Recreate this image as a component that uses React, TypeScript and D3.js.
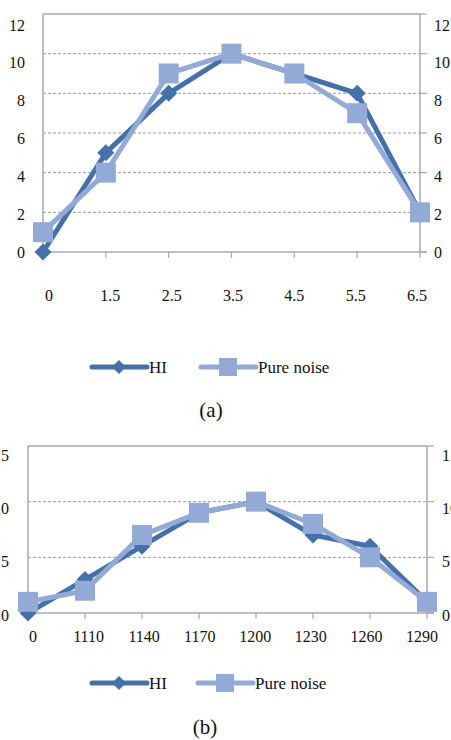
import React from "react";
import * as d3 from "d3";

const catsA = ["0", "1.5", "2.5", "3.5", "4.5", "5.5", "6.5"];
const hiA = [0, 5, 8, 10, 9, 8, 2];
const noiseA = [1, 4, 9, 10, 9, 7, 2];
const yTicksA = [0, 2, 4, 6, 8, 10, 12];

const catsB = ["0", "1110", "1140", "1170", "1200", "1230", "1260", "1290"];
const hiB = [0, 3, 6, 9, 10, 7, 6, 1];
const noiseB = [1, 2, 7, 9, 10, 8, 5, 1];
const yTicksB = [0, 5, 10, 15];

const seriesNames = ["HI", "Pure noise"];
const captions = ["(a)", "(b)"];

const HI_COLOR = "#4571ab";
const NOISE_COLOR = "#94aad6";
const AXIS_COLOR = "#a8a8a8";
const GRID_COLOR = "#9a9a9a";
const FONT = "Liberation Serif";

type PanelProps = {
  cats: string[];
  hi: number[];
  noise: number[];
  yTicks: number[];
  plot: { left: number; right: number; top: number; bottom: number };
  labelX: [number, number];
  labelY: [number, number];
  xLabelY: number;
  leftLabelX: number;
  rightLabelX: number;
  legendY: number;
  legendX: [number, number];
  caption: string;
  captionX: number;
  captionY: number;
};

function Panel(p: PanelProps) {
  const yMax = p.yTicks[p.yTicks.length - 1];
  const x = d3.scalePoint<string>().domain(p.cats).range([p.plot.left, p.plot.right]);
  const y = d3.scaleLinear().domain([0, yMax]).range([p.plot.bottom, p.plot.top]);
  const xl = d3.scalePoint<string>().domain(p.cats).range(p.labelX);
  const yl = d3.scaleLinear().domain([0, yMax]).range(p.labelY);
  const line = d3
    .line<number>()
    .x((_, i) => x(p.cats[i]) as number)
    .y((d) => y(d));

  const diamond = (cx: number, cy: number, r: number) =>
    `M${cx},${cy - r}L${cx + r},${cy}L${cx},${cy + r}L${cx - r},${cy}Z`;

  const textStyle = { fontFamily: FONT };

  return (
    <g>
      {p.yTicks
        .filter((t) => t > 0 && t < yMax)
        .map((t) => (
          <line
            key={"g" + t}
            x1={p.plot.left}
            x2={p.plot.right}
            y1={y(t)}
            y2={y(t)}
            stroke={GRID_COLOR}
            strokeWidth={1}
            strokeDasharray="3,2"
          />
        ))}
      <line x1={p.plot.left} x2={p.plot.right} y1={p.plot.top} y2={p.plot.top} stroke={AXIS_COLOR} strokeWidth={1.5} />
      <line x1={p.plot.left} x2={p.plot.left} y1={p.plot.top} y2={p.plot.bottom} stroke={AXIS_COLOR} strokeWidth={1.5} />
      <line x1={p.plot.right} x2={p.plot.right} y1={p.plot.top} y2={p.plot.bottom} stroke={AXIS_COLOR} strokeWidth={1.5} />
      <line x1={p.plot.left} x2={p.plot.right + 7} y1={p.plot.bottom} y2={p.plot.bottom} stroke={AXIS_COLOR} strokeWidth={1.5} />
      {p.yTicks.map((t) => (
        <line key={"rt" + t} x1={p.plot.right} x2={p.plot.right + 7} y1={y(t)} y2={y(t)} stroke={AXIS_COLOR} strokeWidth={1.2} />
      ))}
      {p.cats.map((c) => (
        <line key={"xt" + c} x1={x(c)} x2={x(c)} y1={p.plot.bottom} y2={p.plot.bottom + 6} stroke={AXIS_COLOR} strokeWidth={1.2} />
      ))}
      {p.yTicks.map((t) => (
        <text key={"yl" + t} x={p.leftLabelX} y={yl(t)} textAnchor="end" dominantBaseline="central" style={textStyle} fontSize={16} fill="#111">
          {t}
        </text>
      ))}
      {p.yTicks.map((t) => (
        <text key={"yr" + t} x={p.rightLabelX} y={yl(t)} textAnchor="start" dominantBaseline="central" style={textStyle} fontSize={16} fill="#111">
          {t}
        </text>
      ))}
      {p.cats.map((c) => (
        <text key={"xl" + c} x={xl(c)} y={p.xLabelY} textAnchor="middle" dominantBaseline="central" style={textStyle} fontSize={16} fill="#111">
          {c}
        </text>
      ))}
      <path d={line(p.hi) || ""} fill="none" stroke={HI_COLOR} strokeWidth={5} strokeLinejoin="round" />
      {p.hi.map((v, i) => (
        <path key={"hd" + i} d={diamond(x(p.cats[i]) as number, y(v), 8.5)} fill={HI_COLOR} />
      ))}
      <path d={line(p.noise) || ""} fill="none" stroke={NOISE_COLOR} strokeWidth={5} strokeLinejoin="round" />
      {p.noise.map((v, i) => (
        <rect key={"ns" + i} x={(x(p.cats[i]) as number) - 10} y={y(v) - 10} width={20} height={20} fill={NOISE_COLOR} />
      ))}
      <line x1={p.legendX[0]} x2={p.legendX[0] + 55} y1={p.legendY} y2={p.legendY} stroke={HI_COLOR} strokeWidth={5} strokeLinecap="round" />
      <path d={diamond(p.legendX[0] + 27, p.legendY, 7)} fill={HI_COLOR} />
      <text x={p.legendX[0] + 57} y={p.legendY} dominantBaseline="central" style={textStyle} fontSize={17} fill="#111">
        {seriesNames[0]}
      </text>
      <line x1={p.legendX[1]} x2={p.legendX[1] + 55} y1={p.legendY} y2={p.legendY} stroke={NOISE_COLOR} strokeWidth={5} strokeLinecap="round" />
      <rect x={p.legendX[1] + 27 - 9} y={p.legendY - 9} width={18} height={18} fill={NOISE_COLOR} />
      <text x={p.legendX[1] + 57} y={p.legendY} dominantBaseline="central" style={textStyle} fontSize={17} fill="#111">
        {seriesNames[1]}
      </text>
      <text x={p.captionX} y={p.captionY} textAnchor="middle" dominantBaseline="central" style={textStyle} fontSize={21} fill="#111">
        {p.caption}
      </text>
    </g>
  );
}

export default function App() {
  return (
    <svg width={451} height={740} style={{ position: "absolute", left: 0, top: 0, background: "#fff" }}>
      <rect width={451} height={740} fill="#fff" />
      <Panel
        cats={catsA}
        hi={hiA}
        noise={noiseA}
        yTicks={yTicksA}
        plot={{ left: 43, right: 420, top: 14, bottom: 252 }}
        labelX={[49, 417]}
        labelY={[252, 25]}
        xLabelY={295}
        leftLabelX={25}
        rightLabelX={434}
        legendY={367}
        legendX={[92, 201]}
        caption={captions[0]}
        captionX={211}
        captionY={410}
      />
      <Panel
        cats={catsB}
        hi={hiB}
        noise={noiseB}
        yTicks={yTicksB}
        plot={{ left: 28, right: 427, top: 446, bottom: 613 }}
        labelX={[33, 422]}
        labelY={[615, 455]}
        xLabelY={636}
        leftLabelX={9}
        rightLabelX={442}
        legendY={683}
        legendX={[92, 198]}
        caption={captions[1]}
        captionX={205}
        captionY={727}
      />
    </svg>
  );
}
